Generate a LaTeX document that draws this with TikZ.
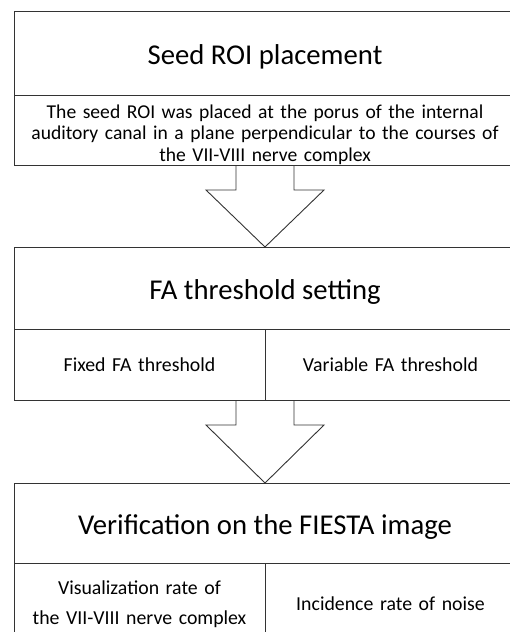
\documentclass[tikz,border=0pt]{standalone}
\usepackage{fontspec}
\setmainfont{Carlito}
\usetikzlibrary{calc}
\usetikzlibrary{positioning}

\begin{document}
\begin{tikzpicture}[x=1pt,y=-1pt,line width=0.9pt,
	box/.style={draw=black!80,outer sep=0pt,inner sep=2pt,align=center},
	title node/.style={box,minimum width=502pt,text height=29.5pt,text depth=7pt,font=\fontsize{28.7}{34}\selectfont},
	text node/.style={box,minimum width=502pt,text width=496pt,inner ysep=0pt,text height=23pt,text depth=47pt,font=\fontsize{19.6}{21.5}\selectfont},
	cell node/.style={box,minimum width=251pt,text width=245pt,font=\fontsize{19.8}{30}\selectfont},
	block arrow/.style={draw=black!80,line join=miter}]
	
	\useasboundingbox (0,0) rectangle (509,632);
	
	% first step
	\node[title node,minimum height=84pt] (seedtitle) at (265,53) {Seed ROI placement};
	\node[text node,minimum height=70pt,below=0pt of seedtitle] (seeddesc) {The seed ROI was placed at the porus of the internal\\ auditory canal in a plane perpendicular to the courses of\\ the VII-VIII nerve complex};
	
	% second step
	\node[title node,minimum height=82pt] (fatitle) at (265,288) {FA threshold setting};
	\node[cell node,minimum height=71pt,below right=0pt and 0pt of fatitle.south west] (fafixed) {Fixed FA threshold};
	\node[cell node,minimum height=71pt,right=0pt of fafixed] (favar) {Variable FA threshold};
	
	% third step
	\node[title node,minimum height=80pt] (verititle) at (265,523) {Verification on the FIESTA image};
	\node[cell node,minimum height=82pt,below right=0pt and 0pt of verititle.south west] (verivis) {Visualization rate of\\ the VII-VIII nerve complex};
	\node[cell node,minimum height=82pt,right=0pt of verivis] (verinoise) {Incidence rate of noise};
	
	% block arrows
	\foreach \from/\to in {seeddesc.south/fatitle.north, fafixed.south east/verititle.north}
	\draw[block arrow] ($(\from)+(-29,0)$) -- ++(0,25) -- ++(-30,0) -- (\to)
	-- ($(\from)+(59,25)$) -- ++(-30,0) -- ($(\from)+(29,0)$);
	
\end{tikzpicture}
\end{document}
